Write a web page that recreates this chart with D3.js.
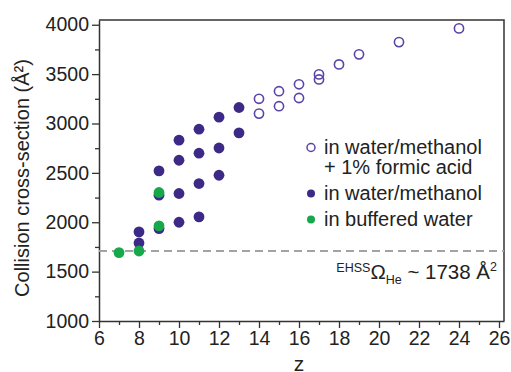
<!DOCTYPE html>
<html>
<head>
<meta charset="utf-8">
<script src="https://cdn.jsdelivr.net/npm/d3@7"></script>
<style>
  body { margin: 0; background: #fff; }
  text { font-family: "Liberation Sans", Arial, sans-serif; fill: #222; }
</style>
</head>
<body>
<div class="svg-container"></div>
<script>
// data: charge state z and CCS (Å²)
const formicZ   = [14, 14, 15, 15, 16, 16, 17, 17, 18, 19, 21, 24];
const formicCCS = [3250, 3100, 3327, 3175, 3397, 3258, 3497, 3446, 3598, 3700, 3824, 3963];

const methanolZ   = [8, 8, 9, 9, 9, 10, 10, 10, 10, 11, 11, 11, 11, 12, 12, 12, 13, 13];
const methanolCCS = [1902, 1790, 2520, 2274, 1936, 2831, 2628, 2291, 2000, 2942, 2699, 2392, 2054, 3064, 2752, 2476, 3162, 2905];

const bufferZ   = [7, 8, 9, 9];
const bufferCCS = [1693, 1709, 2301, 1963];

const refCCS = 1710;
const xTicks = [6, 8, 10, 12, 14, 16, 18, 20, 22, 24, 26];
const yTicks = [1000, 1500, 2000, 2500, 3000, 3500, 4000];
const legendLabels = [["in water/methanol", "+ 1% formic acid"], ["in water/methanol"], ["in buffered water"]];

const W = 511, H = 372;
const margin = {top: 20, right: 7, bottom: 51, left: 99};
const width = W - margin.left - margin.right;
const height = H - margin.top - margin.bottom;

const purple = "#3d2a86", purpleLine = "#5a44a6", green = "#16a84b", axisCol = "#333";

const svg = d3.select('.svg-container')
    .append('svg')
    .attr('width', W)
    .attr('height', H);

const g = svg.append('g')
    .attr('transform', `translate(${margin.left}, ${margin.top})`);

const x = d3.scaleLinear().domain([6, 26.25]).range([0, width]);
const y = d3.scaleLinear().domain([1000, 4048]).range([height, 0]);

// minor ticks
g.append('g')
    .attr('transform', `translate(0, ${height})`)
    .call(d3.axisBottom(x).tickValues(d3.range(7, 26, 2)).tickSize(4).tickFormat(''))
    .call(a => a.select('.domain').remove());
g.append('g')
    .call(d3.axisLeft(y).tickValues(d3.range(1250, 4000, 500)).tickSize(4).tickFormat(''))
    .call(a => a.select('.domain').remove());

const xAxis = g.append('g')
    .attr('transform', `translate(0, ${height})`)
    .call(d3.axisBottom(x).tickValues(xTicks).tickSize(7).tickSizeOuter(0).tickPadding(3).tickFormat(d3.format('d')));
const yAxis = g.append('g')
    .call(d3.axisLeft(y).tickValues(yTicks).tickSize(7).tickSizeOuter(0).tickPadding(3).tickFormat(d3.format('d')));

g.selectAll('.tick line').attr('stroke', axisCol).attr('stroke-width', 1.3);
g.selectAll('.domain').attr('stroke', axisCol).attr('stroke-width', 1.5);
g.selectAll('.tick text').style('font-size', '19.5px').attr('fill', '#222');

// frame top/right
g.append('path')
    .attr('d', `M0,0H${width}V${height}`)
    .attr('fill', 'none')
    .attr('stroke', axisCol)
    .attr('stroke-width', 1.5);

// reference line
g.append('line')
    .attr('x1', 0).attr('x2', width)
    .attr('y1', y(refCCS)).attr('y2', y(refCCS))
    .attr('stroke', '#a3a3a3')
    .attr('stroke-width', 2)
    .attr('stroke-dasharray', '8,5');

// points
g.selectAll('.formic')
    .data(formicZ.map((z, i) => [z, formicCCS[i]]))
    .enter().append('circle')
    .attr('cx', d => x(d[0])).attr('cy', d => y(d[1]))
    .attr('r', 4.6)
    .attr('fill', 'none')
    .attr('stroke', purpleLine)
    .attr('stroke-width', 1.6);

g.selectAll('.meth')
    .data(methanolZ.map((z, i) => [z, methanolCCS[i]]))
    .enter().append('circle')
    .attr('cx', d => x(d[0])).attr('cy', d => y(d[1]))
    .attr('r', 5.4)
    .attr('fill', purple);

g.selectAll('.buf')
    .data(bufferZ.map((z, i) => [z, bufferCCS[i]]))
    .enter().append('circle')
    .attr('cx', d => x(d[0])).attr('cy', d => y(d[1]))
    .attr('r', 5.4)
    .attr('fill', green);

// legend
const legY = [147.5, 193.5, 219.5];
const legend = svg.selectAll('.legend')
    .data(legendLabels)
    .enter().append('g')
    .attr('class', 'legend')
    .attr('transform', (d, i) => `translate(311, ${legY[i]})`);

legend.append('circle')
    .attr('r', d => 4)
    .attr('fill', (d, i) => i == 0 ? 'none' : (i == 1 ? purple : green))
    .attr('stroke', (d, i) => i == 0 ? purpleLine : 'none')
    .attr('stroke-width', 1.5);

legend.append('text')
    .attr('x', 13)
    .attr('y', 6.5)
    .style('font-size', '20px')
    .selectAll('tspan')
    .data(d => d)
    .enter().append('tspan')
    .attr('x', 13)
    .attr('dy', (d, i) => i == 0 ? 0 : 19.5)
    .text(d => d);

// annotation
const ann = svg.append('text')
    .attr('x', 497)
    .attr('y', 279)
    .attr('text-anchor', 'end')
    .style('font-size', '20.5px');
ann.append('tspan').style('font-size', '12.5px').attr('dy', -7).text('EHSS');
ann.append('tspan').attr('dy', 7).text('Ω');
ann.append('tspan').style('font-size', '12.5px').attr('dy', 5).text('He');
ann.append('tspan').attr('dy', -5).text(' ~ 1738 Å');
ann.append('tspan').style('font-size', '12.5px').attr('dy', -8).text('2');

// axis titles
svg.append('text')
    .attr('x', margin.left + x(16))
    .attr('y', 371)
    .attr('text-anchor', 'middle')
    .style('font-size', '21px')
    .text('z');

svg.append('text')
    .attr('transform', 'translate(29, 178) rotate(-90)')
    .attr('text-anchor', 'middle')
    .style('font-size', '20px')
    .text('Collision cross-section (Å²)');
</script>
</body>
</html>
